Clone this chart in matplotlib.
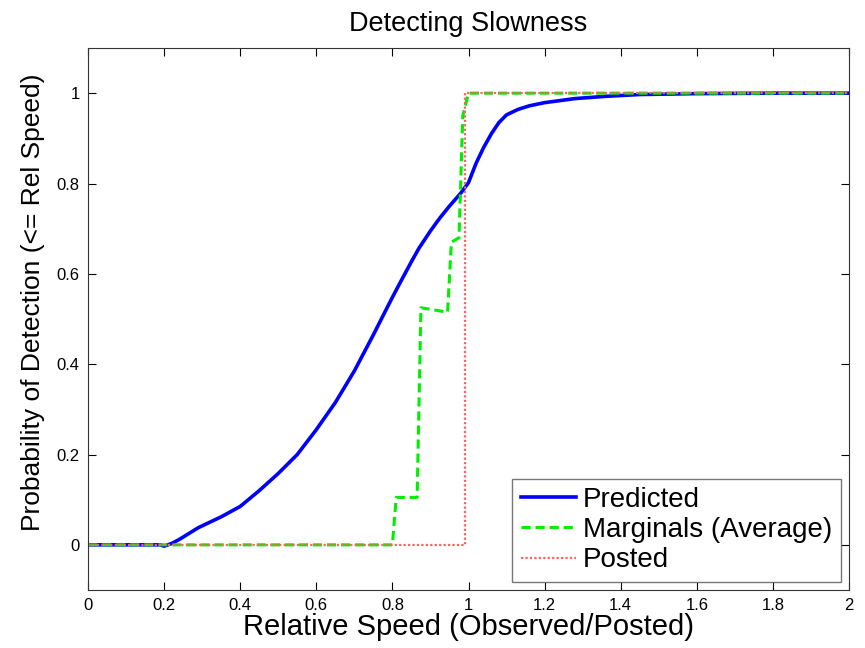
import matplotlib
matplotlib.use("Agg")
import matplotlib.pyplot as plt
from matplotlib.ticker import FuncFormatter

plt.rcParams["font.family"] = ["Liberation Sans", "DejaVu Sans"]

# predicted detection curve
pred_x = [0.0, 0.10, 0.19, 0.20, 0.22, 0.24, 0.29, 0.35, 0.40, 0.45, 0.50, 0.55, 0.60,
          0.65, 0.70, 0.75, 0.78, 0.80, 0.82, 0.85, 0.87, 0.90, 0.925, 0.95, 0.98, 1.00,
          1.02, 1.04, 1.06, 1.08, 1.10, 1.13, 1.16, 1.20, 1.28, 1.36, 1.45, 1.60, 1.80, 2.0]
pred_y = [0.0, 0.0, 0.0, -0.003, 0.003, 0.012, 0.038, 0.062, 0.085, 0.120, 0.158, 0.200, 0.255,
          0.315, 0.385, 0.465, 0.515, 0.548, 0.580, 0.627, 0.657, 0.695, 0.724, 0.750, 0.779, 0.802,
          0.845, 0.880, 0.910, 0.935, 0.952, 0.964, 0.972, 0.979, 0.988, 0.993, 0.997, 0.999, 1.0, 1.0]

# marginals (average) step curve
marg_x = [0.0, 0.80, 0.81, 0.865, 0.875, 0.945, 0.955, 0.975, 0.985, 1.0, 2.0]
marg_y = [0.0, 0.0, 0.105, 0.105, 0.525, 0.515, 0.670, 0.680, 0.950, 1.0, 1.0]

# posted speed
post_x = [0.0, 0.99, 0.99, 2.0]
post_y = [0.0, 0.0, 1.0, 1.0]

fig = plt.figure(figsize=(8.65, 6.48), dpi=100)
ax = fig.add_axes([88 / 865, 1 - 590 / 648, (849 - 88) / 865, (590 - 48) / 648])

ax.plot(pred_x, pred_y, color="#0000ff", lw=2.6, label="Predicted")
ax.plot(marg_x, marg_y, color="#00ee00", lw=2.2, ls=(0, (3, 1.6)), label="Marginals (Average)")
ax.plot(post_x, post_y, color="#ff6060", lw=1.6, ls=(0, (1, 1)), label="Posted")

ax.set_xlim(0, 2)
ax.set_ylim(-0.1, 1.1)
ax.set_xticks([0, 0.2, 0.4, 0.6, 0.8, 1, 1.2, 1.4, 1.6, 1.8, 2])
ax.set_yticks([0, 0.2, 0.4, 0.6, 0.8, 1])
fmt = FuncFormatter(lambda v, p: f"{v:g}")
ax.xaxis.set_major_formatter(fmt)
ax.yaxis.set_major_formatter(fmt)
ax.tick_params(direction="in", top=True, right=True, length=6, width=0.8,
               labelsize=12, pad=6)
for s in ax.spines.values():
    s.set_linewidth(0.8)
    s.set_color("#333333")

ax.set_title("Detecting Slowness", fontsize=19.5, pad=12)
ax.set_xlabel("Relative Speed (Observed/Posted)", fontsize=21, labelpad=0)
ax.set_ylabel("Probability of Detection (<= Rel Speed)", fontsize=19)
ax.yaxis.set_label_coords(-0.057, 0.53)

leg = ax.legend(loc="lower right", fontsize=20, frameon=True, fancybox=False,
                borderpad=0.3, handlelength=2.0, handletextpad=0.25, labelspacing=0.15,
                borderaxespad=0.3)
leg.get_frame().set_edgecolor("#555555")
leg.get_frame().set_linewidth(1.0)

fig.savefig("out.png", dpi=100)
